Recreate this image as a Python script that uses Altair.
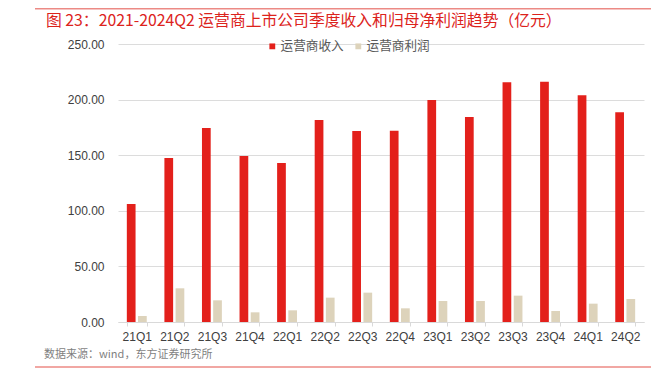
import altair as alt
import pandas as pd

quarters = ["21Q1", "21Q2", "21Q3", "21Q4", "22Q1", "22Q2", "22Q3", "22Q4",
            "23Q1", "23Q2", "23Q3", "23Q4", "24Q1", "24Q2"]
revenue = [106.1, 147.5, 174.5, 149.3, 143.0, 181.7, 171.8, 172.0,
           199.6, 184.4, 215.6, 216.1, 203.9, 188.6]
profit = [5.4, 30.3, 19.5, 8.7, 10.5, 21.9, 26.4, 12.3,
          18.9, 18.9, 23.7, 9.9, 16.5, 20.7]
series = ["运营商收入", "运营商利润"]
colors = ["#e3201b", "#ddd3bb"]
y_ticks = [0, 50, 100, 150, 200, 250]
title_text = "图 23：2021-2024Q2 运营商上市公司季度收入和归母净利润趋势（亿元）"
source_text = "数据来源：wind，东方证券研究所"

rows = []
for q, r, p in zip(quarters, revenue, profit):
    rows.append({"quarter": q, "series": series[0], "value": r})
    rows.append({"quarter": q, "series": series[1], "value": p})
df = pd.DataFrame(rows)

cjk = "Noto Sans CJK SC"
latin = "Liberation Sans"

bars = alt.Chart(df).mark_bar().encode(
    x=alt.X("quarter:N", sort=quarters,
            scale=alt.Scale(paddingInner=0.47, paddingOuter=0.235),
            axis=alt.Axis(title=None, labelAngle=0, tickBand="extent",
                          domainColor="#d9d9d9", tickColor="#d9d9d9", tickSize=4,
                          labelPadding=5, labelFontSize=12, labelColor="#404040",
                          labelFont=latin)),
    xOffset=alt.XOffset("series:N", sort=series,
                        scale=alt.Scale(paddingInner=0.22, paddingOuter=0)),
    y=alt.Y("value:Q", scale=alt.Scale(domain=[0, 250]),
            axis=alt.Axis(values=y_ticks, format=".2f", title=None, domain=False,
                          ticks=False, gridColor="#dcdcdc", labelPadding=14,
                          labelFontSize=12, labelColor="#404040", labelFont=latin)),
    color=alt.Color("series:N", sort=series,
                    scale=alt.Scale(domain=series, range=colors),
                    legend=alt.Legend(orient="none", legendX=148, legendY=-4,
                                      direction="horizontal", title=None,
                                      symbolType="square", symbolSize=34,
                                      symbolStrokeWidth=0,
                                      labelFont=cjk, labelFontSize=12.6,
                                      labelColor="#595959", columnPadding=8,
                                      labelOffset=2)),
)

title = alt.Chart(pd.DataFrame({"t": [title_text]})).mark_text(
    align="left", baseline="middle", font=cjk, fontSize=15.8, color="#dc231c"
).encode(x=alt.value(-72), y=alt.value(-23), text="t:N")

source = alt.Chart(pd.DataFrame({"t": [source_text]})).mark_text(
    align="left", baseline="middle", font=cjk, fontSize=11, color="#7f7f7f"
).encode(x=alt.value(-74), y=alt.value(311), text="t:N")

top_rule = alt.Chart(pd.DataFrame({"a": [0]})).mark_rule(
    color="#ec8a85", strokeWidth=1.5
).encode(x=alt.value(-83), x2=alt.value(540), y=alt.value(-35.2))

bottom_rule = alt.Chart(pd.DataFrame({"a": [0]})).mark_rule(
    color="#ec8a85", strokeWidth=1.5
).encode(x=alt.value(-83), x2=alt.value(540), y=alt.value(323))

chart = alt.layer(bars, title, source, top_rule, bottom_rule).properties(
    width=526, height=278,
    autosize=alt.AutoSizeParams(type="none"),
    padding={"left": 110, "top": 36, "right": 7, "bottom": 60},
).configure_view(stroke=None)

chart.save("out.html", embed_options={"renderer": "svg", "actions": False})
